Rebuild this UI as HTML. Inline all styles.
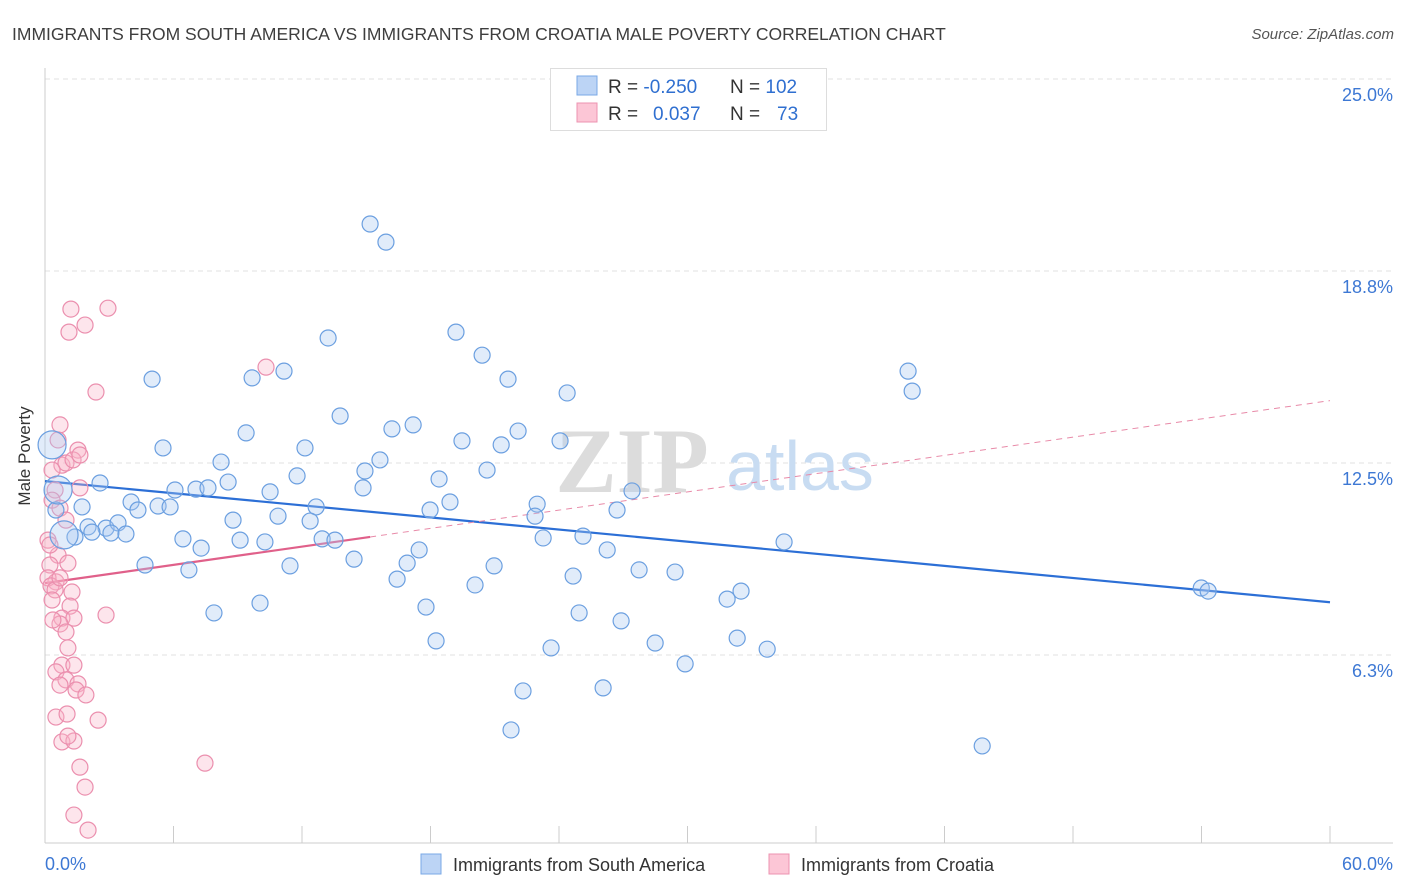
<!DOCTYPE html>
<html><head><meta charset="utf-8">
<style>
body{margin:0;background:#fff;font-family:"Liberation Sans",sans-serif;}
svg{display:block}
</style></head>
<body>
<svg id="chart" width="1406" height="892">
<text x="12" y="40" font-size="17.5" fill="#3e3e3e">IMMIGRANTS FROM SOUTH AMERICA VS IMMIGRANTS FROM CROATIA MALE POVERTY CORRELATION CHART</text>
<text x="1394" y="39" font-size="15" fill="#555" font-style="italic" text-anchor="end">Source: ZipAtlas.com</text>
<g id="grid"></g>
<g>
<text x="632" y="492" font-size="92" font-family="Liberation Serif,serif" fill="#dcdcdc" text-anchor="middle" font-weight="bold">ZIP</text>
<text x="800" y="490" font-size="70" fill="#c8dcf2" text-anchor="middle">atlas</text>
</g>
<g id="axes"></g>
<g id="lines"></g>
<g id="pts"></g>
<text x="30" y="456" font-size="17" fill="#333" text-anchor="middle" transform="rotate(-90 30 456)">Male Poverty</text>
<g>
<rect x="550.5" y="68.5" width="276" height="62" fill="#fff" stroke="#ddd"/>
<rect x="577" y="76" width="20" height="19" fill="#bcd4f5" stroke="#7aa8e6"/>
<rect x="577" y="103" width="20" height="19" fill="#fcc6d6" stroke="#ec93b0"/>
<text x="608" y="93" font-size="19" fill="#333">R = <tspan fill="#2f6fd0">-0.250</tspan></text>
<text x="730" y="93" font-size="19" fill="#333">N = <tspan fill="#2f6fd0">102</tspan></text>
<text x="608" y="120" font-size="19" fill="#333">R = <tspan fill="#2f6fd0" x="653">0.037</tspan></text>
<text x="730" y="120" font-size="19" fill="#333">N = <tspan fill="#2f6fd0" x="777">73</tspan></text>
</g>
<g>
<rect x="421" y="854" width="20" height="20" fill="#bcd4f5" stroke="#7aa8e6"/>
<text x="453" y="871" font-size="18" fill="#333">Immigrants from South America</text>
<rect x="769" y="854" width="20" height="20" fill="#fcc6d6" stroke="#ec93b0"/>
<text x="801" y="871" font-size="18" fill="#333">Immigrants from Croatia</text>
</g>
</svg>
<script>
const blueX=[15.18,15.92,19.19,13.22,20.41,40.30,5.00,9.67,11.16,21.62,24.38,40.49,13.78,16.20,17.19,9.39,22.09,19.47,24.05,5.51,12.14,21.30,8.22,15.64,14.94,20.64,11.77,18.40,8.55,6.07,7.05,7.61,10.51,14.85,27.41,4.02,5.28,5.84,4.34,12.66,18.91,22.98,17.98,26.71,2.57,1.73,0.51,8.78,10.88,12.38,22.88,2.01,2.85,3.41,2.19,3.08,3.78,1.40,6.44,9.11,10.27,12.94,13.54,23.26,25.12,7.29,17.47,26.25,34.51,14.43,4.67,6.72,11.44,16.91,20.97,24.66,27.74,29.42,16.44,20.08,32.50,31.85,53.99,54.31,10.04,7.89,17.79,24.94,26.90,18.26,23.63,28.49,32.32,33.72,29.89,22.32,26.06,21.76,43.76,0.33,0.61,0.89];
const blueY=[20.28,19.69,16.76,16.57,16.01,15.49,15.23,15.27,15.49,15.23,14.78,14.84,14.03,13.61,13.74,13.48,13.54,13.22,13.22,12.99,12.99,13.09,12.53,12.60,12.24,12.27,12.08,11.98,11.88,11.62,11.65,11.69,11.56,11.69,11.59,11.23,11.10,11.07,10.97,11.07,11.23,11.16,10.97,10.97,11.85,11.07,10.97,10.64,10.77,10.61,10.77,10.42,10.38,10.55,10.25,10.22,10.19,10.09,10.03,9.99,9.93,10.03,9.99,10.06,10.12,9.73,9.67,9.67,9.93,9.37,9.18,9.02,9.15,9.24,9.15,8.82,9.02,8.95,8.72,8.53,8.33,8.07,8.43,8.33,7.94,7.62,7.81,7.62,7.36,6.71,6.48,6.64,6.80,6.44,5.96,5.08,5.18,3.81,3.29,13.09,11.62,10.16];
const blueBig=[0.33,0.61,0.89];
const pinkX=[1.21,2.94,1.87,1.12,10.32,2.38,0.70,1.54,0.79,0.98,1.63,0.47,0.33,0.70,0.14,0.61,0.23,1.07,0.51,0.14,0.28,0.47,1.26,0.33,1.17,0.79,1.35,0.70,2.85,0.98,1.07,0.79,1.35,0.51,0.98,0.70,1.54,1.45,1.91,0.51,1.03,2.48,0.79,1.35,1.07,1.63,1.87,1.35,2.01,7.47,0.23,0.70,0.37,0.98,0.33,0.61,1.31,1.63];
const pinkY=[17.51,17.54,16.99,16.76,15.62,14.81,13.74,12.92,12.43,12.50,11.69,11.62,11.29,11.03,9.99,9.50,9.18,9.24,8.63,8.76,8.50,8.37,8.30,8.04,7.84,7.45,7.45,7.26,7.55,7.00,6.48,5.92,5.92,5.70,5.44,5.27,5.31,5.11,4.95,4.23,4.33,4.13,3.42,3.45,3.61,2.60,1.95,1.04,0.55,2.73,9.83,8.76,7.39,10.64,12.27,13.25,12.60,12.76];
// trend lines: [intercept %, slope per x-%]
const blueTrend=[11.91,-0.0657];
const pinkTrend=[8.59,0.099];
const pinkSolidEnd=[15.18];
const yTicks=[6.25,12.5,18.75,25];
const yTickLabels=["6.3%","12.5%","18.8%","25.0%"];
const xTickLabels=["0.0%","60.0%"];

const NS="http://www.w3.org/2000/svg";
const sx=v=>45+v/60*1285;
const sy=v=>847-v*30.72;
function mk(parent,tag,attrs){const e=document.createElementNS(NS,tag);for(const k in attrs)e.setAttribute(k,attrs[k]);parent.appendChild(e);return e;}
const grid=document.getElementById('grid'),axes=document.getElementById('axes'),lines=document.getElementById('lines'),pts=document.getElementById('pts');
yTicks.forEach((t,i)=>{
  const l=mk(grid,'line',{x1:45,x2:1393,y1:sy(t),y2:sy(t),stroke:'#e2e2e2','stroke-dasharray':'5,4'});
  
  
  const tx=mk(axes,'text',{x:1393,y:sy(t)+22,'font-size':18,fill:'#3d78d4','text-anchor':'end'});
  tx.textContent=yTickLabels[i];
  
  
});
const ax=mk(axes,'line',{x1:45,x2:45,y1:68,y2:843,stroke:'#ccc'});


const bx=mk(axes,'line',{x1:45,x2:1393,y1:843,y2:843,stroke:'#ccc'});


for(let i=0;i<=10;i++){
  const t=mk(axes,'line',{x1:sx(i*6),x2:sx(i*6),y1:826,y2:843,stroke:'#ccc'});
  
  
}
[[0,'start',45],[60,'end',1393]].forEach((d,i)=>{
  const t=mk(axes,'text',{x:d[2],y:870,'font-size':18,fill:'#3d78d4','text-anchor':d[1]});
  t.textContent=xTickLabels[i];
  
  
});
function dots(X,Y,fill,stroke,name){
  X.forEach((x,i)=>{
    const big=(name==='blue-point'&&i>=X.length-blueBig.length);
    const c=mk(pts,'circle',{cx:sx(x),cy:sy(Y[i]),r:big?14:8,fill:fill,stroke:stroke,'stroke-width':1.2});
    
    
  });
}
const [ab,bb]=blueTrend;
const [ap,bp]=pinkTrend;
const pmax=pinkSolidEnd[0];
const bl=mk(lines,'line',{x1:sx(0),y1:sy(ab),x2:sx(60),y2:sy(ab+bb*60),stroke:'#2c6fd6','stroke-width':2.2});


const pd=mk(lines,'line',{x1:sx(pmax),y1:sy(ap+bp*pmax),x2:sx(60),y2:sy(ap+bp*60),stroke:'#e88aa8','stroke-width':1,'stroke-dasharray':'6,5'});


const ps=mk(lines,'line',{x1:sx(0),y1:sy(ap),x2:sx(pmax),y2:sy(ap+bp*pmax),stroke:'#e0608a','stroke-width':2.2});


dots(pinkX,pinkY,'rgba(248,180,200,0.35)','#eb8fae','pink-point');
dots(blueX,blueY,'rgba(170,200,240,0.35)','#6b9fe0','blue-point');
</script>
</body></html>
